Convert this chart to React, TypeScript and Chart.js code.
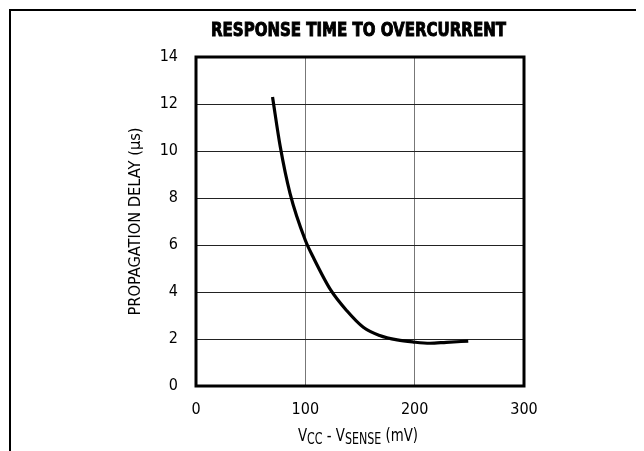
import React, { useEffect, useRef } from "react";
import { Chart, registerables } from "chart.js";

Chart.register(...registerables);

const chartTitle = "RESPONSE TIME TO OVERCURRENT";
const yAxisTitle = "PROPAGATION DELAY (µs)";
const xAxisTitleParts = [
  { text: "V", sub: false },
  { text: "CC", sub: true },
  { text: " - V", sub: false },
  { text: "SENSE", sub: true },
  { text: " (mV)", sub: false },
];

const senseVoltage = [70, 77, 86, 100, 107, 123, 138, 153, 168, 184, 199, 214, 229, 249];
const propagationDelay = [12.3, 10.2, 8.2, 6.2, 5.5, 4.1, 3.2, 2.5, 2.15, 1.96, 1.87, 1.82, 1.86, 1.91];

const xTickValues = [0, 100, 200, 300];
const yTickValues = [0, 2, 4, 6, 8, 10, 12, 14];

const FONT = '"Liberation Sans Narrow", "DejaVu Sans Condensed", "Liberation Sans", sans-serif';

function drawScaledText(ctx: CanvasRenderingContext2D, text: string, cx: number, cy: number, target: number) {
  const w = ctx.measureText(text).width;
  ctx.save();
  ctx.translate(cx, cy);
  ctx.scale(target / w, 1);
  ctx.fillText(text, 0, 0);
  ctx.restore();
}

const annotPlugin = {
  id: "annot",
  afterDraw(chart: any) {
    const ctx: CanvasRenderingContext2D = chart.ctx;
    const a = chart.chartArea;
    ctx.save();
    // plot frame
    ctx.strokeStyle = "#000";
    ctx.lineWidth = 3;
    ctx.strokeRect(a.left, a.top, a.right - a.left, a.bottom - a.top);

    ctx.fillStyle = "#000";
    // title
    ctx.font = `bold 19px ${FONT}`;
    ctx.textAlign = "center";
    ctx.textBaseline = "alphabetic";
    ctx.save();
    ctx.lineWidth = 0.9;
    ctx.strokeStyle = "#000";
    const tw = ctx.measureText(chartTitle).width;
    ctx.translate(350.5, 27.8);
    ctx.scale(295 / tw, 1);
    ctx.fillText(chartTitle, 0, 0);
    ctx.strokeText(chartTitle, 0, 0);
    ctx.restore();

    // y axis title
    ctx.font = `16px ${FONT}`;
    ctx.textBaseline = "middle";
    ctx.save();
    ctx.translate(128, (a.top + a.bottom) / 2);
    ctx.rotate(-Math.PI / 2);
    drawScaledText(ctx, yAxisTitle, 0, 0, 188);
    ctx.restore();

    // x axis title with subscripts
    const mainFont = `18px ${FONT}`;
    const subFont = `15px ${FONT}`;
    let total = 0;
    const widths: number[] = [];
    for (const p of xAxisTitleParts) {
      ctx.font = p.sub ? subFont : mainFont;
      const w = ctx.measureText(p.text).width;
      widths.push(w);
      total += w;
    }
    const target = 120;
    const sx = target / total;
    const cx = 358 - 8;
    const baseY = 434.5 - 8 + 6.5;
    ctx.save();
    ctx.translate(cx - target / 2, baseY);
    ctx.scale(sx, 1);
    ctx.textAlign = "left";
    ctx.textBaseline = "alphabetic";
    let x = 0;
    xAxisTitleParts.forEach((p, i) => {
      ctx.font = p.sub ? subFont : mainFont;
      ctx.fillText(p.text, x, p.sub ? 2.5 : 0);
      x += widths[i];
    });
    ctx.restore();
    ctx.restore();
  },
};

export default function App() {
  const ref = useRef<HTMLCanvasElement | null>(null);
  useEffect(() => {
    if (!ref.current) return;
    const chart = new Chart(ref.current, {
      type: "line",
      data: {
        datasets: [
          {
            data: senseVoltage.map((v, i) => ({ x: v, y: propagationDelay[i] })),
            borderColor: "#000",
            borderWidth: 3.2,
            pointRadius: 0,
            cubicInterpolationMode: "monotone",
            fill: false,
          },
        ],
      },
      options: {
        animation: false,
        responsive: false,
        devicePixelRatio: 1,
        layout: { padding: { left: 0, right: 120, top: 49, bottom: 0 } },
        plugins: { legend: { display: false }, title: { display: false }, tooltip: { enabled: false } },
        scales: {
          x: {
            type: "linear",
            min: 0,
            max: 300,
            afterBuildTicks: (scale: any) => {
              scale.ticks = xTickValues.map((v) => ({ value: v }));
            },
            afterFit: (scale: any) => {
              scale.height = 65;
            },
            grid: { color: "#777", lineWidth: 1, drawTicks: false },
            border: { display: false },
            ticks: { color: "#000", font: { family: FONT, size: 16 }, padding: 14, maxRotation: 0 },
          },
          y: {
            type: "linear",
            min: 0,
            max: 14,
            afterBuildTicks: (scale: any) => {
              scale.ticks = yTickValues.map((v) => ({ value: v }));
            },
            afterFit: (scale: any) => {
              scale.width = 188;
            },
            grid: { color: "#222", lineWidth: 1, drawTicks: false },
            border: { display: false },
            ticks: { color: "#000", font: { family: FONT, size: 16 }, padding: 18 },
          },
        },
      },
      plugins: [annotPlugin],
    } as any);
    return () => chart.destroy();
  }, []);
  return (
    <div style={{ position: "relative", width: 636, height: 443, overflow: "hidden" }}>
      <div
        style={{
          position: "absolute",
          left: 1,
          top: 1,
          width: 700,
          height: 500,
          borderTop: "2px solid #000",
          borderLeft: "2px solid #000",
        }}
      />
      <canvas ref={ref} width={636} height={443} style={{ position: "absolute", left: 0, top: 0, display: "block" }} />
    </div>
  );
}
